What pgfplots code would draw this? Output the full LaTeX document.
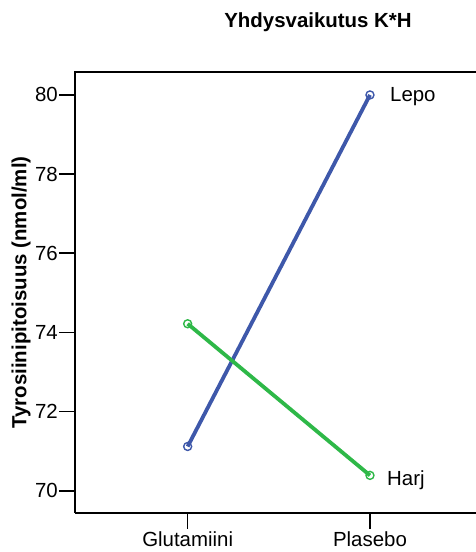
\documentclass[border=0pt]{standalone}
\usepackage{pgfplots}
\pgfplotsset{compat=1.18}
\usepackage{fontspec}
\setmainfont{Liberation Sans}

\definecolor{lepoblue}{RGB}{62,88,170}
\definecolor{harjgreen}{RGB}{46,184,72}

\newcommand{\chartfont}{\fontsize{20.5}{24}\selectfont}

\begin{document}
\begin{tikzpicture}[x=1bp,y=1bp]
\path[use as bounding box] (0,0) rectangle (476,552);
\node[anchor=base,font=\chartfont\bfseries] at (318,524) {Yhdysvaikutus K*H};
% the plot frame runs on past the right edge of the page
\begin{axis}[
  at={(75bp,39bp)}, anchor=south west,
  scale only axis, width=412bp, height=441bp,
  axis lines*=left,
  axis line style={line width=1.8bp},
  xmin=-0.618, xmax=1.642,
  ymin=69.44, ymax=80.58,
  xtick={0,1}, xticklabels={Glutamiini,Plasebo},
  ytick={70,72,74,76,78,80},
  tick align=outside,
  major tick length=16bp,
  tick style={line width=1.6bp, black},
  every tick label/.append style={font=\chartfont},
  /pgf/number format/assume math mode=true,
  yticklabel style={inner sep=1bp},
  xticklabel style={inner sep=2.5bp},
  ylabel={\bfseries Tyrosiinipitoisuus (nmol/ml)},
  ylabel style={font=\chartfont},
  clip=false,
]
% top edge of the frame
\draw[line width=1.8bp, line cap=rect] (rel axis cs:0,1) -- (rel axis cs:1,1);
% Lepo (rest)
\addplot[lepoblue, line width=3.8bp, mark=o, mark size=4bp,
  mark options={line width=1.4bp, fill=white}] coordinates {(0,71.12) (1,80.0)};
% Harj (exercise)
\addplot[harjgreen, line width=3.8bp, mark=o, mark size=4bp,
  mark options={line width=1.4bp, fill=white}] coordinates {(0,74.22) (1,70.39)};
\node[anchor=base west, inner sep=0pt, xshift=20bp, yshift=-7bp,
  font=\chartfont] at (axis cs:1,80.0) {Lepo};
\node[anchor=base west, inner sep=0pt, xshift=17bp, yshift=-10bp,
  font=\chartfont] at (axis cs:1,70.39) {Harj};
\end{axis}
\end{tikzpicture}
\end{document}
